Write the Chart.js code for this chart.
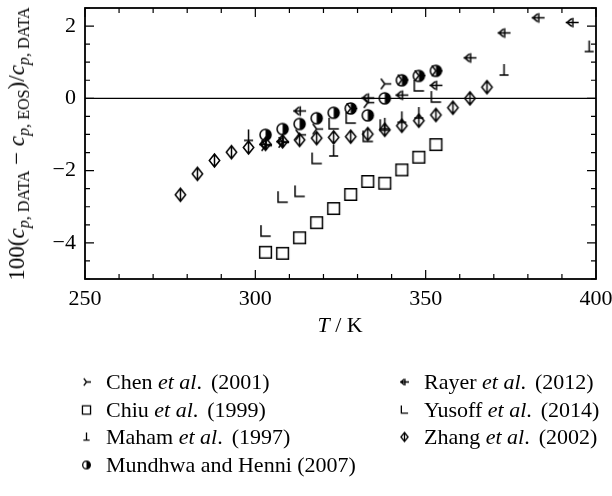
<!DOCTYPE html>
<html>
<head>
<meta charset="utf-8">
<script src="https://cdn.jsdelivr.net/npm/chart.js@4.4.1/dist/chart.umd.min.js"></script>
<style>
  html, body { margin: 0; padding: 0; background: #fff; }
  #wrap { position: relative; width: 612px; height: 496px; font-family: "Liberation Serif", "Times New Roman", serif; color: #000; }
  #c { position: absolute; left: 0; top: 0; }
  .ytitle { position: absolute; left: 17px; top: 144px; transform: translate(-50%, -50%) rotate(-90deg); white-space: nowrap; font-size: 23px; }
  .xtitle { position: absolute; left: 340px; top: 325px; transform: translate(-50%, -50%); white-space: nowrap; font-size: 22px; }
  .leg { position: absolute; font-size: 22px; white-space: nowrap; line-height: 1; transform: translateY(-50%); }
  .leg canvas { position: absolute; left: -26px; top: 50%; transform: translateY(-50%); }
  .anio { margin-left: 9px; }
  sub { font-size: 70%; vertical-align: -0.3em; line-height: 0; }
</style>
</head>
<body>
<div id="wrap">
  <canvas id="c" width="612" height="496"></canvas>
  <div class="ytitle">100(<i>c</i><sub><i>p</i>, DATA</sub> &minus; <i>c</i><sub><i>p</i>, EOS</sub>)/<i>c</i><sub><i>p</i>, DATA</sub></div>
  <div class="xtitle"><i>T</i> / K</div>
  <div id="legend"></div>
</div>

<script>
// ===========================
// DATOS (T en K, desviacion en %)
// ===========================
const T_CHEN   = [303, 308, 313, 318, 328, 333, 338, 343, 348, 353];
const DEV_CHEN = [-1.31, -1.22, -1.01, -0.85, -0.28, -0.12, 0.40, 0.51, 0.63, 0.76];

const T_CHIU   = [303, 308, 313, 318, 323, 328, 333, 338, 343, 348, 353];
const DEV_CHIU = [-4.26, -4.29, -3.86, -3.44, -3.05, -2.66, -2.30, -2.35, -1.98, -1.63, -1.28];

const T_MAHAM   = [298, 323, 338, 343, 348, 373, 398];
const DEV_MAHAM = [-1.04, -1.47, -0.72, -0.54, -0.42, 0.77, 1.42];

const T_MUND   = [303, 308, 313, 318, 323, 328, 333, 338, 343, 348, 353];
const DEV_MUND = [-1.01, -0.85, -0.71, -0.55, -0.40, -0.28, -0.47, 0.0, 0.50, 0.62, 0.76];

const T_RAYER   = [303, 308, 313, 333, 343, 353, 363, 373, 383, 393];
const DEV_RAYER = [-1.28, -1.20, -0.35, 0.01, 0.09, 0.36, 1.12, 1.81, 2.23, 2.10];

const T_YUSOFF   = [303, 308, 313, 318, 323, 328, 333, 338, 348, 353];
const DEV_YUSOFF = [-3.69, -2.75, -2.59, -1.68, -0.72, -0.56, -1.07, -0.76, 0.33, 0.02];

const T_ZHANG   = [278, 283, 288, 293, 298, 303, 308, 313, 318, 323, 328, 333, 338, 343, 348, 353, 358, 363, 368];
const DEV_ZHANG = [-2.67, -2.09, -1.72, -1.49, -1.36, -1.26, -1.19, -1.15, -1.10, -1.08, -1.06, -0.99, -0.87, -0.76, -0.62, -0.46, -0.26, 0.0, 0.31];

const X_MIN = 250, X_MAX = 400, X_STEP = 10, X_LABEL_EVERY = 50;
const Y_MIN = -5, Y_MAX = 2.5, Y_STEP = 0.5, Y_LABEL_EVERY = 2;

const FUENTE = "'Liberation Serif', 'Times New Roman', serif";

// ===========================
// MARCADORES
// ===========================
function dibujarMarcador(ctx, tipo, r, cx, cy, lw) {
  ctx.save();
  ctx.strokeStyle = "#000";
  ctx.fillStyle = "#000";
  ctx.lineWidth = lw;
  ctx.beginPath();
  if (tipo === "chen") {
    ctx.moveTo(cx, cy); ctx.lineTo(cx + r, cy);
    ctx.moveTo(cx, cy); ctx.lineTo(cx - r * 0.6, cy - r * 0.8);
    ctx.moveTo(cx, cy); ctx.lineTo(cx - r * 0.6, cy + r * 0.8);
    ctx.stroke();
  } else if (tipo === "chiu") {
    ctx.rect(cx - r * 0.9, cy - r * 0.9, r * 1.8, r * 1.8);
    ctx.stroke();
  } else if (tipo === "maham") {
    ctx.moveTo(cx, cy - r); ctx.lineTo(cx, cy + r * 0.7);
    ctx.moveTo(cx - r * 0.7, cy + r * 0.7); ctx.lineTo(cx + r * 0.7, cy + r * 0.7);
    ctx.stroke();
  } else if (tipo === "mund") {
    ctx.arc(cx, cy, r * 0.85, -Math.PI / 2, Math.PI / 2);
    ctx.closePath();
    ctx.fill();
    ctx.beginPath();
    ctx.arc(cx, cy, r * 0.85, 0, Math.PI * 2);
    ctx.stroke();
  } else if (tipo === "rayer") {
    ctx.moveTo(cx - r, cy); ctx.lineTo(cx + r, cy);
    ctx.moveTo(cx - r * 0.1, cy - r * 0.6); ctx.lineTo(cx - r * 0.8, cy); ctx.lineTo(cx - r * 0.1, cy + r * 0.6);
    ctx.moveTo(cx + r * 0.1, cy - r * 0.75); ctx.lineTo(cx + r * 0.1, cy + r * 0.75);
    ctx.stroke();
  } else if (tipo === "yusoff") {
    ctx.moveTo(cx - r * 0.7, cy - r); ctx.lineTo(cx - r * 0.7, cy + r * 0.7); ctx.lineTo(cx + r * 0.8, cy + r * 0.7);
    ctx.stroke();
  } else if (tipo === "zhang") {
    ctx.moveTo(cx, cy - r); ctx.lineTo(cx + r * 0.8, cy); ctx.lineTo(cx, cy + r); ctx.lineTo(cx - r * 0.8, cy); ctx.closePath();
    ctx.moveTo(cx, cy - r); ctx.lineTo(cx, cy + r);
    ctx.stroke();
  }
  ctx.restore();
}

function crearMarcador(tipo, r, lw) {
  const s = Math.ceil(2 * r + 4);
  const cv = document.createElement("canvas");
  cv.width = s; cv.height = s;
  dibujarMarcador(cv.getContext("2d"), tipo, r, s / 2, s / 2, lw);
  return cv;
}

const SERIES = [
  { tipo: "chen",   t: T_CHEN,   d: DEV_CHEN,   nombre: 'Chen <i>et al</i>.<span class="anio">(2001)</span>' },
  { tipo: "chiu",   t: T_CHIU,   d: DEV_CHIU,   nombre: 'Chiu <i>et al</i>.<span class="anio">(1999)</span>' },
  { tipo: "maham",  t: T_MAHAM,  d: DEV_MAHAM,  nombre: 'Maham <i>et al</i>.<span class="anio">(1997)</span>' },
  { tipo: "mund",   t: T_MUND,   d: DEV_MUND,   nombre: "Mundhwa and Henni (2007)" },
  { tipo: "rayer",  t: T_RAYER,  d: DEV_RAYER,  nombre: 'Rayer <i>et al</i>.<span class="anio">(2012)</span>' },
  { tipo: "yusoff", t: T_YUSOFF, d: DEV_YUSOFF, nombre: 'Yusoff <i>et al</i>.<span class="anio">(2014)</span>' },
  { tipo: "zhang",  t: T_ZHANG,  d: DEV_ZHANG,  nombre: 'Zhang <i>et al</i>.<span class="anio">(2002)</span>' }
];

// ===========================
// MARCO, TICKS HACIA ADENTRO Y LINEA CERO
// ===========================
const marcoPlugin = {
  id: "marco",
  afterDatasetsDraw(chart) {
    const { ctx, chartArea: a, scales } = chart;
    const xs = scales.x, ys = scales.y;
    ctx.save();
    ctx.strokeStyle = "#000";

    // linea cero
    const y0 = ys.getPixelForValue(0);
    ctx.lineWidth = 1.4;
    ctx.beginPath();
    ctx.moveTo(a.left, y0); ctx.lineTo(a.right, y0);
    ctx.stroke();

    // ticks
    ctx.lineWidth = 1.2;
    ctx.beginPath();
    xs.ticks.forEach(tk => {
      const px = xs.getPixelForValue(tk.value);
      const len = Math.abs(tk.value % X_LABEL_EVERY) < 1e-9 ? 9 : 5;
      ctx.moveTo(px, a.bottom); ctx.lineTo(px, a.bottom - len);
      ctx.moveTo(px, a.top); ctx.lineTo(px, a.top + len);
    });
    ys.ticks.forEach(tk => {
      const py = ys.getPixelForValue(tk.value);
      const len = Math.abs(tk.value % Y_LABEL_EVERY) < 1e-9 ? 9 : 5;
      ctx.moveTo(a.left, py); ctx.lineTo(a.left + len, py);
      ctx.moveTo(a.right, py); ctx.lineTo(a.right - len, py);
    });
    ctx.stroke();

    // marco
    ctx.lineWidth = 1.8;
    ctx.strokeRect(a.left, a.top, a.right - a.left, a.bottom - a.top);
    ctx.restore();
  }
};

// ===========================
// GRAFICO
// ===========================
new Chart(document.getElementById("c"), {
  type: "scatter",
  data: {
    datasets: SERIES.map(s => ({
      label: s.tipo,
      data: s.t.map((t, i) => ({ x: t, y: s.d[i] })),
      pointStyle: crearMarcador(s.tipo, 6.5, 1.5),
      pointRadius: 7,
      pointHoverRadius: 7
    }))
  },
  options: {
    responsive: false,
    animation: false,
    layout: { padding: { left: 0, top: 6, right: 16, bottom: 177 } },
    plugins: { legend: { display: false }, tooltip: { enabled: false } },
    scales: {
      x: {
        type: "linear",
        min: X_MIN, max: X_MAX,
        afterFit: sc => { sc.height = 40; sc.paddingLeft = 0; sc.paddingRight = 0; },
        grid: { display: false, drawTicks: false },
        border: { display: false },
        ticks: {
          stepSize: X_STEP,
          autoSkip: false,
          maxRotation: 0,
          padding: 7,
          color: "#000",
          font: { family: FUENTE, size: 22 },
          callback: v => (Math.abs(v % X_LABEL_EVERY) < 1e-9 ? String(v) : "")
        }
      },
      y: {
        type: "linear",
        min: Y_MIN, max: Y_MAX,
        afterFit: sc => { sc.width = 85; sc.paddingTop = 0; sc.paddingBottom = 0; },
        grid: { display: false, drawTicks: false },
        border: { display: false },
        ticks: {
          stepSize: Y_STEP,
          autoSkip: false,
          padding: 9,
          color: "#000",
          font: { family: FUENTE, size: 22 },
          callback: v => {
            if (Math.abs(v % Y_LABEL_EVERY) > 1e-9) return "";
            return v < 0 ? "\u2212" + Math.abs(v) : String(v);
          }
        }
      }
    }
  },
  plugins: [marcoPlugin]
});

// ===========================
// LEYENDA
// ===========================
const LEG_COLS = [106, 424];
const LEG_ROWS = [382, 410, 437, 465];
const legend = document.getElementById("legend");
SERIES.forEach((s, i) => {
  const col = i < 4 ? 0 : 1;
  const row = i < 4 ? i : i - 4;
  const div = document.createElement("div");
  div.className = "leg";
  div.style.left = LEG_COLS[col] + "px";
  div.style.top = LEG_ROWS[row] + "px";
  div.innerHTML = s.nombre;
  div.prepend(crearMarcador(s.tipo, 4.5, 1.3));
  legend.appendChild(div);
});
</script>
</body>
</html>
